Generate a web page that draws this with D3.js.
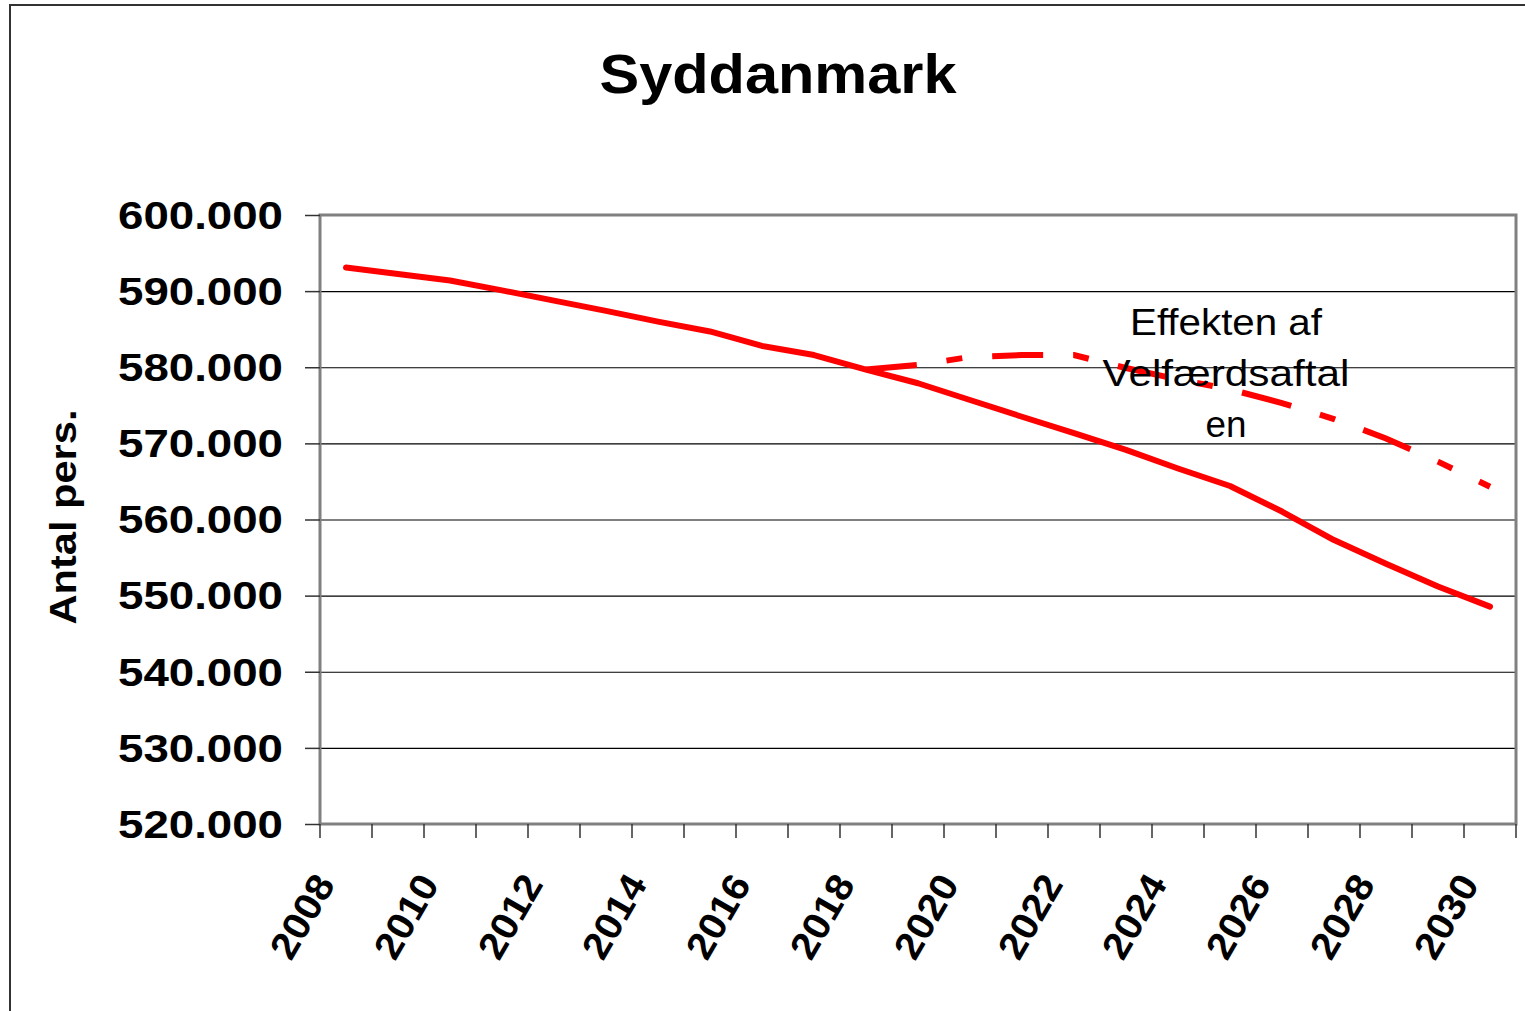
<!DOCTYPE html>
<html>
<head>
<meta charset="utf-8">
<script src="https://cdn.jsdelivr.net/npm/d3@7"></script>
<style>
  html, body { margin: 0; padding: 0; background: #fff; }
  svg { display: block; font-family: "Liberation Sans", Arial, sans-serif; }
</style>
</head>
<body>
<div id="chart"></div>
<script>
// Befolkning, Syddanmark
const years = d3.range(2008, 2031);
const baseValues = [593100, 592250, 591400, 590100, 588750, 587400, 586000, 584700, 582800, 581600,
                    579700, 577900, 575700, 573500, 571350, 569150, 566700, 564400, 561050, 557300,
                    554200, 551200, 548550];
const effectYears = d3.range(2018, 2031);
const effectValues = [579700, 580300, 581350, 581600, 581600, 579900, 578400, 577100, 575300, 573200,
                      570650, 567600, 564300];
const yTicks = [520000, 530000, 540000, 550000, 560000, 570000, 580000, 590000, 600000];
const labelYears = [2008, 2010, 2012, 2014, 2016, 2018, 2020, 2022, 2024, 2026, 2028, 2030];
const annotationLines = ['Effekten af', 'Velfærdsaftal', 'en'];

(function() {
  const W = 1525, H = 1011;
  const plot = { left: 320, top: 215, right: 1516, bottom: 824 };

  const svg = d3.select('#chart').append('svg')
    .attr('width', W).attr('height', H);

  // outer frame (top + left only, the rest is cut off)
  svg.append('path')
    .attr('d', `M${W},5 H10 V${H}`)
    .attr('fill', 'none')
    .attr('stroke', '#333')
    .attr('stroke-width', 2);

  const x = d3.scaleBand().domain(years).range([plot.left, plot.right]).padding(0);
  const y = d3.scaleLinear().domain([520000, 600000]).range([plot.bottom, plot.top]);
  const cx = d => x(d) + x.bandwidth() / 2;

  const dk = d3.formatLocale({ decimal: ',', thousands: '.', grouping: [3], currency: ['', ' kr.'] });
  const fmt = dk.format(',');

  // gridlines
  svg.append('g')
    .attr('transform', `translate(${plot.left},0)`)
    .call(d3.axisLeft(y).tickValues(yTicks).tickSize(-(plot.right - plot.left)).tickFormat(''))
    .call(g => g.select('.domain').remove())
    .call(g => g.selectAll('line').attr('stroke', '#000').attr('stroke-width', 1.2));

  // plot border
  svg.append('rect')
    .attr('x', plot.left).attr('y', plot.top)
    .attr('width', plot.right - plot.left).attr('height', plot.bottom - plot.top)
    .attr('fill', 'none')
    .attr('stroke', '#808080')
    .attr('stroke-width', 3);

  // y axis ticks + labels
  const yAxis = svg.append('g')
    .attr('transform', `translate(${plot.left},0)`)
    .call(d3.axisLeft(y).tickValues(yTicks).tickSize(15).tickPadding(22).tickFormat(fmt));
  yAxis.select('.domain').remove();
  yAxis.selectAll('line').attr('stroke', '#333').attr('stroke-width', 1.5);
  yAxis.selectAll('text')
    .attr('fill', '#000')
    .attr('font-family', '"Liberation Sans", Arial, sans-serif')
    .attr('font-size', 39)
    .attr('font-weight', 'bold')
    .attr('dy', '0.34em')
    .attr('textLength', 165)
    .attr('lengthAdjust', 'spacingAndGlyphs');

  // x axis ticks at category boundaries
  const bounds = years.map(d => x(d)).concat([plot.right]);
  svg.append('g').selectAll('line')
    .data(bounds)
    .join('line')
    .attr('x1', d => d).attr('x2', d => d)
    .attr('y1', plot.bottom).attr('y2', plot.bottom + 14)
    .attr('stroke', '#333').attr('stroke-width', 1.5);

  svg.append('g').selectAll('text')
    .data(labelYears)
    .join('text')
    .attr('transform', d => `translate(${cx(d) - 10},${plot.bottom + 60}) rotate(-60)`)
    .attr('text-anchor', 'end')
    .attr('font-size', 38)
    .attr('font-weight', 'bold')
    .attr('fill', '#000')
    .attr('textLength', 90)
    .attr('lengthAdjust', 'spacingAndGlyphs')
    .text(d => d);

  // lines
  const line = d3.line().x(d => cx(d[0])).y(d => y(d[1]));

  svg.append('path')
    .datum(d3.zip(effectYears, effectValues))
    .attr('d', line)
    .attr('fill', 'none')
    .attr('stroke', '#ff0000')
    .attr('stroke-width', 6)
    .attr('stroke-dasharray', '51,30,16,30');

  svg.append('path')
    .datum(d3.zip(years, baseValues))
    .attr('d', line)
    .attr('fill', 'none')
    .attr('stroke', '#ff0000')
    .attr('stroke-width', 6)
    .attr('stroke-linejoin', 'round')
    .attr('stroke-linecap', 'round');

  // annotation
  const annWidths = [192, 247, 41];
  svg.append('g').selectAll('text')
    .data(annotationLines)
    .join('text')
    .attr('x', 1226)
    .attr('y', (d, i) => 335 + i * 51)
    .attr('text-anchor', 'middle')
    .attr('font-size', 36)
    .attr('fill', '#000')
    .attr('textLength', (d, i) => annWidths[i])
    .attr('lengthAdjust', 'spacingAndGlyphs')
    .text(d => d);

  // title
  svg.append('text')
    .attr('x', 778).attr('y', 93)
    .attr('text-anchor', 'middle')
    .attr('font-size', 56)
    .attr('font-weight', 'bold')
    .attr('textLength', 357)
    .attr('lengthAdjust', 'spacingAndGlyphs')
    .text('Syddanmark');

  // y axis title
  svg.append('text')
    .attr('transform', 'translate(76,517) rotate(-90)')
    .attr('text-anchor', 'middle')
    .attr('font-size', 36)
    .attr('font-weight', 'bold')
    .attr('textLength', 215)
    .attr('lengthAdjust', 'spacingAndGlyphs')
    .text('Antal pers.');
})();
</script>
</body>
</html>
